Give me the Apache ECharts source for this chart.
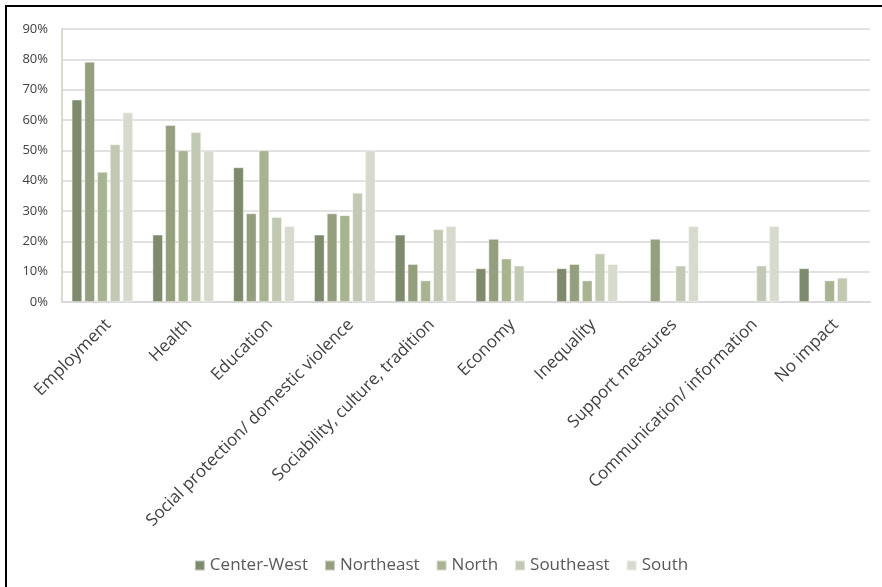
<!DOCTYPE html>
<html>
<head>
<meta charset="utf-8">
<script src="https://cdn.jsdelivr.net/npm/echarts@6/dist/echarts.min.js"></script>
<style>
html,body{margin:0;padding:0;background:#fff;}
#frame{position:absolute;left:5px;top:5px;width:877px;height:582px;border-left:2px solid #000;border-top:2px solid #000;box-sizing:border-box;}
#chart{position:absolute;left:0;top:0;width:882px;height:587px;}
</style>
</head>
<body>
<div id="chart"></div>
<div id="frame"></div>
<script>
const categories = ["Employment","Health","Education","Social protection/ domestic violence","Sociability, culture, tradition","Economy","Inequality","Support measures","Communication/ information","No impact"];
const seriesNames = ["Center-West","Northeast","North","Southeast","South"];
const centerWest = [66.7, 22.2, 44.4, 22.2, 22.2, 11.1, 11.1, 0, 0, 11.1];
const northeast  = [79.2, 58.3, 29.2, 29.2, 12.5, 20.8, 12.5, 20.8, 0, 0];
const north      = [42.9, 50.0, 50.0, 28.6, 7.1, 14.3, 7.1, 0, 0, 7.1];
const southeast  = [52.0, 56.0, 28.0, 36.0, 24.0, 12.0, 16.0, 12.0, 12.0, 8.0];
const south      = [62.5, 50.0, 25.0, 50.0, 25.0, 0, 12.5, 25.0, 25.0, 0];
const yTicks = [0,10,20,30,40,50,60,70,80,90];
const colors = ["#7e8a6c","#949f7e","#a8b490","#c2c9b3","#d6dbce"];
const allData = [centerWest, northeast, north, southeast, south];

const chart = echarts.init(document.getElementById('chart'));
chart.setOption({
  animation:false,
  color: colors,
  grid:{left:62,right:12,top:29,bottom:285,containLabel:false},
  legend:{
    bottom:8,left:'center',itemWidth:10,itemHeight:10,itemGap:16,icon:'rect',
    textStyle:{fontFamily:'Open Sans',fontSize:17,color:'#595959'},
    data: seriesNames
  },
  xAxis:{
    type:'category',data:categories,
    axisLine:{lineStyle:{color:'#d9d9d9',width:2}},
    axisTick:{show:false},
    axisLabel:{rotate:45,interval:0,margin:14,verticalAlign:'top',fontFamily:'Open Sans',fontSize:17,color:'#404040'}
  },
  yAxis:{
    type:'value',min:0,max:90,interval:10,
    axisLine:{show:true,lineStyle:{color:'#c9d2bc',width:1.5}},
    axisTick:{show:false},
    splitLine:{lineStyle:{color:'#d9d9d9',width:1.5}},
    axisLabel:{formatter:function(v){return yTicks.indexOf(v)>=0? v+'%':'';},margin:14,fontFamily:'Open Sans',fontSize:13,color:'#404040'}
  },
  series: seriesNames.map((n,i)=>({
    name:n,type:'bar',data:allData[i].map(v=>v===0?null:v),
    barGap:'22%',barCategoryGap:'24%',
    itemStyle:{borderColor:'rgba(255,255,255,0.5)',borderWidth:0.8}
  }))
});
</script>
</body>
</html>
